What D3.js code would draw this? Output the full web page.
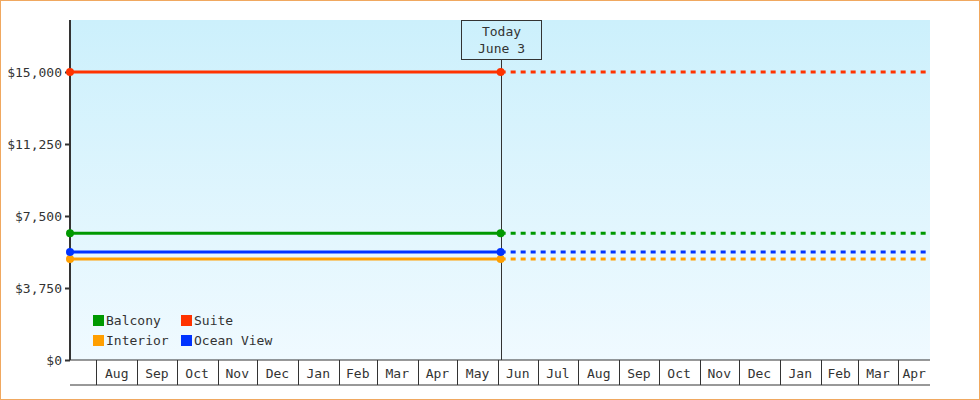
<!DOCTYPE html>
<html><head><meta charset="utf-8">
<script src="https://cdn.jsdelivr.net/npm/d3@7"></script>
<style>body{margin:0}svg{display:block;font-family:"DejaVu Sans Mono",monospace}</style>
</head><body>
<svg id="chart" width="980" height="400"></svg>
<script>
var categories = ["Balcony", "Interior", "Suite", "Ocean View"];
var colors = ["#009900", "#ff9f00", "#ff3300", "#0033ff"];
var prices = [6600, 5260, 15000, 5625];
var yTicks = [0, 3750, 7500, 11250, 15000];
var startDate = new Date(2023, 6, 12), todayDate = new Date(2024, 5, 3), endDate = new Date(2025, 3, 25);

var margin = {top: 20, left: 70, right: 50, bottom: 40},
    width = 980 - margin.left - margin.right,
    height = 400 - margin.top - margin.bottom;

var svg = d3.select("#chart");
svg.append("rect").attr("x", 0.5).attr("y", 0.5).attr("width", 979).attr("height", 399)
    .attr("fill", "#fff").attr("stroke", "#f0a860");

var defs = svg.append("defs");
var grad = defs.append("linearGradient").attr("id", "bg").attr("x1", 0).attr("y1", 0).attr("x2", 0).attr("y2", 1);
grad.append("stop").attr("offset", 0).attr("stop-color", "#ccf0fc");
grad.append("stop").attr("offset", 1).attr("stop-color", "#f0faff");

var g = svg.append("g").attr("transform", "translate(" + margin.left + "," + margin.top + ")");

var x = d3.scaleTime().domain([startDate, endDate]).range([0, width]);
var y = d3.scaleLinear().domain([0, 17708]).range([height, 0]);

g.append("rect").attr("width", width).attr("height", height).attr("fill", "url(#bg)");

// y axis
var yAxis = g.append("g").call(d3.axisLeft(y).tickValues(yTicks).tickSize(5).tickFormat(function(d) { return "$" + d3.format(",")(d); }));
yAxis.select(".domain").attr("stroke", "#333").attr("stroke-width", 2).attr("d", "M0,0V" + height);
yAxis.selectAll(".tick line").attr("stroke", "#333").attr("stroke-width", 2);
yAxis.selectAll("text").attr("font-size", 13).attr("fill", "#333").attr("font-family", "DejaVu Sans Mono");

// month axis boxes
var months = d3.timeMonth.range(d3.timeMonth.ceil(startDate), endDate);
var xa = g.append("g").attr("transform", "translate(0," + height + ")");
xa.append("line").attr("x1", 0).attr("x2", width).attr("y1", 25).attr("y2", 25).attr("stroke", "#333");
xa.append("line").attr("x1", 0).attr("x2", width).attr("y1", 0).attr("y2", 0).attr("stroke", "#333");
xa.selectAll(".sep").data(months).enter().append("line")
    .attr("x1", function(d) { return Math.round(x(d)) + 0.5; }).attr("x2", function(d) { return Math.round(x(d)) + 0.5; })
    .attr("y1", 0).attr("y2", 25).attr("stroke", "#333");
xa.selectAll(".ml").data(months).enter().append("text")
    .attr("x", function(d) { return (x(d) + Math.min(x(d3.timeMonth.offset(d, 1)), width)) / 2; })
    .attr("y", 18).attr("text-anchor", "middle").attr("font-size", 13).attr("fill", "#333")
    .text(function(d) { return d3.timeFormat("%b")(d); });

// today marker
var tx = Math.round(x(todayDate)) + 0.5;
g.append("line").attr("x1", tx).attr("x2", tx).attr("y1", 40).attr("y2", height).attr("stroke", "#333");
g.append("rect").attr("x", tx - 40).attr("y", 0.5).attr("width", 80).attr("height", 39).attr("fill", "none").attr("stroke", "#333");
g.append("text").attr("x", tx).attr("y", 16).attr("text-anchor", "middle").attr("font-size", 13).attr("fill", "#333").text("Today");
g.append("text").attr("x", tx).attr("y", 33).attr("text-anchor", "middle").attr("font-size", 13).attr("fill", "#333").text("June 3");

// series
var order = [1, 3, 0, 2];
order.forEach(function(i) {
    var yy = y(prices[i]);
    g.append("line").attr("x1", 0).attr("x2", x(todayDate)).attr("y1", yy).attr("y2", yy)
        .attr("stroke", colors[i]).attr("stroke-width", 3);
    g.append("line").attr("x1", x(todayDate)).attr("x2", width).attr("y1", yy).attr("y2", yy)
        .attr("stroke", colors[i]).attr("stroke-width", 3).attr("stroke-dasharray", "5,5");
    [startDate, todayDate].forEach(function(d) {
        g.append("circle").attr("cx", x(d)).attr("cy", yy).attr("r", 4).attr("fill", colors[i]);
    });
});

// legend
var leg = g.append("g").attr("transform", "translate(23,295)");
categories.forEach(function(c, i) {
    var lx = Math.floor(i / 2) * 88, ly = (i % 2) * 20;
    leg.append("rect").attr("x", lx).attr("y", ly).attr("width", 11).attr("height", 11).attr("fill", colors[i]);
    leg.append("text").attr("x", lx + 13).attr("y", ly + 10).attr("font-size", 13).attr("fill", "#333").text(c);
});
</script>
</body></html>
